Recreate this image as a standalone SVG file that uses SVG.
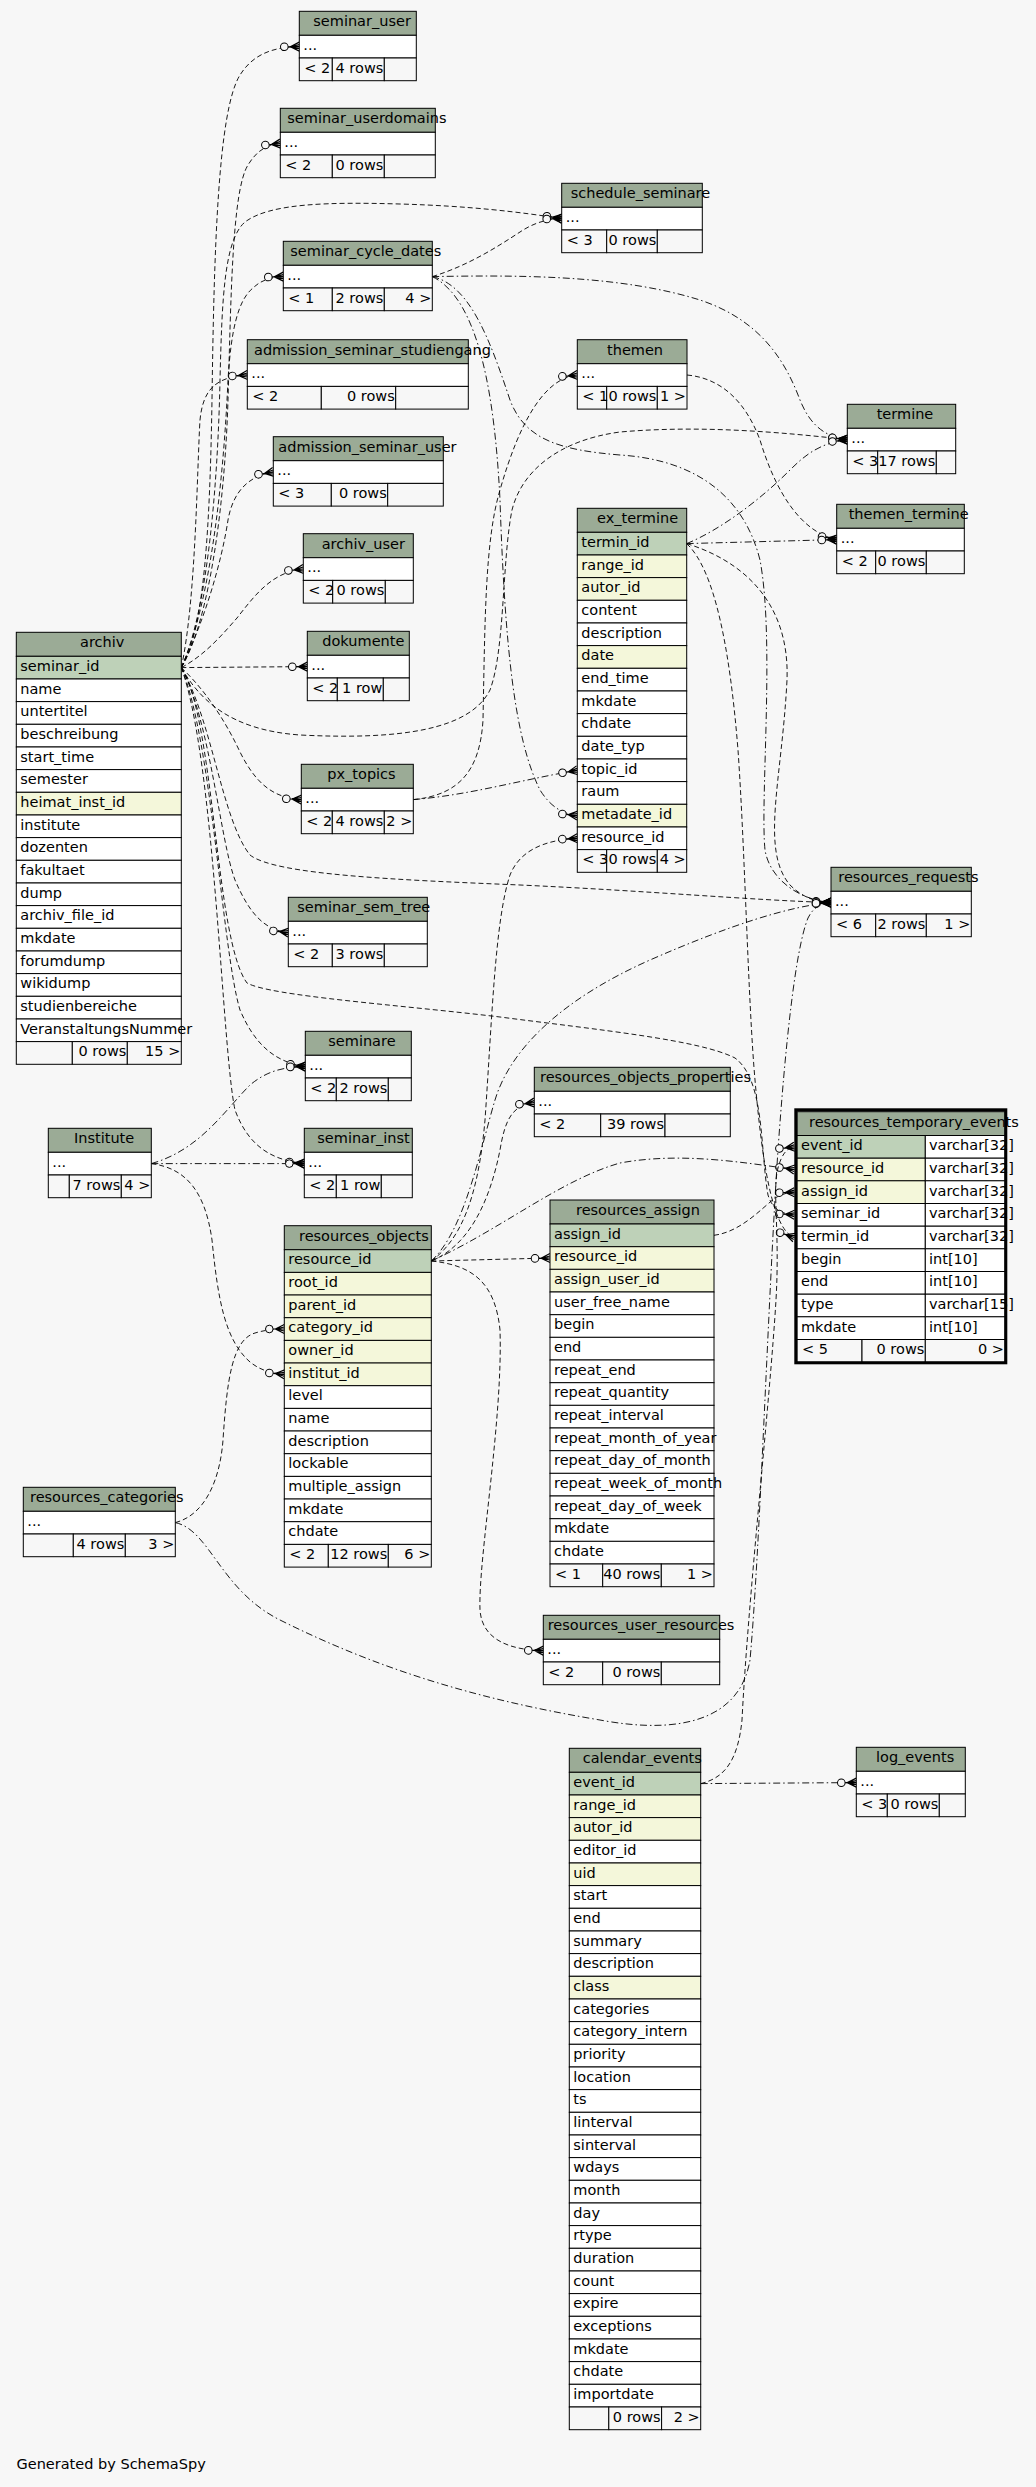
<svg xmlns="http://www.w3.org/2000/svg" width="1036" height="2487" viewBox="0 0 1036 2487">
<style>
text{font-family:"DejaVu Sans","Liberation Sans",sans-serif;font-size:14.5px;fill:#000}
.r{text-anchor:end}
.t rect{stroke:#000;stroke-width:1}
.h{fill:#9bab96}.p{fill:#bed1b8}.i{fill:#f4f7da}.w{fill:#fff}.f{fill:#f7f7f7}
.e{fill:none;stroke:#000;stroke-width:0.9;stroke-dasharray:5 3;marker-end:url(#cf)}
.d{stroke-dasharray:7 3 1.5 3}
</style>
<defs>
<marker id="cf" viewBox="-20 -6 22 12" refX="0" refY="0" markerWidth="22" markerHeight="12" markerUnits="userSpaceOnUse" orient="auto" overflow="visible">
<path d="M-11.2,0 L0,0 M-9,0 L0,-4.5 M-9,0 L0,4.5 M-9,0 L0,-2 M-9,0 L0,2" fill="none" stroke="#000" stroke-width="1.2"/>
<circle cx="-15" cy="0" r="3.8" fill="#f7f7f7" stroke="#000" stroke-width="1"/>
</marker>
</defs>
<rect x="0" y="0" width="1036" height="2487" fill="#f7f7f7"/>
<g id="connectors">
<path class="e" d="M181.3,667.6 C205,630 210,520 212,400 C214,250 218,110 240,75 C252,56 270,47 299.3,46.6"/>
<path class="e" d="M181.3,667.6 C210,620 225,500 228,400 C231,300 232,190 248,165 C256,152 265,145 280.3,143.6"/>
<path class="e" d="M181.3,667.6 C208,610 218,480 220,380 C222,300 224,240 245,222 C270,203 330,202 400,204 C470,206 520,212 561.7,218.6"/>
<path class="e" d="M181.3,667.6 C212,600 224,470 228,380 C231,330 238,300 253,288 C260,281 270,277 283.3,276.6"/>
<path class="e" d="M181.3,667.6 C196,600 197,470 200,420 C203,390 215,377 247.3,375"/>
<path class="e" d="M181.3,667.6 C205,620 222,560 228,520 C233,492 248,476 273.3,472"/>
<path class="e" d="M181.3,667.6 C205,655 222,635 237,618 C255,595 272,572 303.3,569"/>
<path class="e" d="M181.3,667.6 L307.3,666.6"/>
<path class="e" d="M181.3,667.6 C205,690 225,720 240,752 C255,782 272,798 301.3,799.6"/>
<path class="e" d="M181.3,667.6 C200,700 230,730 300,735 C400,740 470,730 490,690 C505,650 502,560 512,510 C522,470 560,440 620,432 C700,425 780,432 847.3,439.6"/>
<path class="e" d="M181.3,667.6 C212,720 222,820 250,855 C275,875 400,880 520,885 C650,891 750,900 831,902.6"/>
<path class="e" d="M181.3,667.6 C215,720 215,940 247,983 C270,996 400,1005 500,1017 C600,1030 700,1040 735,1058 C765,1080 760,1150 768,1195 C772,1208 780,1214 794.3,1214.8"/>
<path class="e" d="M181.3,667.6 C210,720 220,840 235,880 C250,915 265,930 288.3,932.6"/>
<path class="e" d="M181.3,667.6 C212,740 222,950 240,1010 C255,1045 275,1062 305.3,1066.6"/>
<path class="e" d="M181.3,667.6 C215,760 222,1050 235,1110 C248,1145 270,1160 304.3,1163.6"/>
<path class="e" d="M432.3,276.6 C470,265 500,245 520,232 C532,224 545,219 561.7,218.6"/>
<path class="e d" d="M432.3,276.6 C520,275 620,275 700,300 C760,320 785,360 800,400 C810,425 825,437 847.3,439.6"/>
<path class="e d" d="M432.3,276.6 C480,300 495,400 500,500 C505,650 515,740 540,790 C550,806 562,814 577.3,815.6"/>
<path class="e d" d="M432.3,276.6 C470,285 490,340 510,400 C525,440 560,450 620,455 C700,460 745,500 760,560 C775,640 760,800 765,850 C770,880 800,900 831,902.6"/>
<path class="e" d="M687,375 C720,378 745,400 760,440 C775,490 800,532 836.7,539.6"/>
<path class="e" d="M413.3,799.6 C460,795 480,770 483,720 C485,620 485,540 500,490 C520,420 545,378 577.3,375"/>
<path class="e d" d="M413.3,799.6 C470,795 520,780 577.3,770.3"/>
<path class="e d" d="M686.7,543.6 C720,530 760,500 790,470 C805,455 820,443 847.3,439.6"/>
<path class="e d" d="M686.7,543.6 L836.7,539.6"/>
<path class="e" d="M686.7,543.6 C740,560 790,600 787,680 C782,780 760,850 790,885 C802,897 815,902 831,902.6"/>
<path class="e" d="M686.7,543.6 C715,570 730,650 738,750 C745,850 748,1000 755,1080 C762,1160 772,1230 794.3,1237.5"/>
<path class="e d" d="M151.3,1163.6 C200,1150 225,1110 250,1085 C268,1070 285,1067 305.3,1066.6"/>
<path class="e d" d="M151.3,1163.6 L304.3,1163.6"/>
<path class="e" d="M151.3,1163.6 C185,1168 205,1190 212,1240 C218,1300 225,1340 250,1362 C260,1370 270,1373 284.3,1374.3"/>
<path class="e" d="M431.3,1261 C460,1240 478,1200 485,1120 C492,1020 495,920 510,875 C520,850 545,840 577.3,838.3"/>
<path class="e d" d="M431.3,1261 C465,1230 480,1150 495,1100 C510,1050 560,1000 650,960 C730,925 790,906 831,902.6"/>
<path class="e" d="M431.3,1261 C470,1245 490,1200 500,1150 C505,1120 512,1105 534.3,1102.6"/>
<path class="e" d="M431.3,1261 L550,1258"/>
<path class="e d" d="M431.3,1261 C500,1230 560,1180 620,1163 C680,1152 740,1162 794.3,1169.5"/>
<path class="e" d="M431.3,1261 C470,1265 495,1280 500,1330 C503,1420 478,1560 480,1610 C482,1640 510,1650 543.3,1650.6"/>
<path class="e" d="M714,1235.3 C740,1232 760,1210 775,1198 C782,1194 788,1192.4 794.3,1192.2"/>
<path class="e" d="M175.3,1522.6 C205,1515 220,1480 223,1440 C227,1380 232,1340 255,1333 C265,1330 274,1329 284.3,1329"/>
<path class="e d" d="M175.3,1522.6 C210,1530 220,1590 280,1620 C380,1670 480,1700 600,1720 C680,1735 740,1720 750,1660 C760,1550 768,1300 778,1150 C785,1050 795,950 808,918 C814,906 822,903 831,902.6"/>
<path class="e d" d="M700.7,1783.6 L856.3,1782.6"/>
<path class="e" d="M700.7,1783.6 C725,1778 738,1760 742,1720 C748,1600 770,1400 776,1300 C780,1230 772,1190 778,1168 C782,1153 788,1147.5 794.3,1146.8"/>
</g>

<g id="seminar_user" class="t">
<rect class="h" x="299.3" y="11.3" width="117" height="24"/>
<rect class="w" x="299.3" y="35.3" width="117" height="22.7"/>
<rect class="f" x="299.3" y="58" width="33" height="22.7"/>
<rect class="f" x="332.3" y="58" width="52" height="22.7"/>
<rect class="f" x="384.3" y="58" width="32" height="22.7"/>
<text x="313.3" y="26.3">seminar_user</text>
<text x="303.3" y="50">...</text>
<text x="304.3" y="72.7">&lt; 2</text>
<text class="r" x="383.3" y="72.7">4 rows</text>
</g>

<g id="seminar_userdomains" class="t">
<rect class="h" x="280.3" y="108.3" width="155" height="24"/>
<rect class="w" x="280.3" y="132.3" width="155" height="22.7"/>
<rect class="f" x="280.3" y="155" width="52" height="22.7"/>
<rect class="f" x="332.3" y="155" width="52" height="22.7"/>
<rect class="f" x="384.3" y="155" width="51" height="22.7"/>
<text x="287.3" y="123.3">seminar_userdomains</text>
<text x="284.3" y="147">...</text>
<text x="285.3" y="169.7">&lt; 2</text>
<text class="r" x="383.3" y="169.7">0 rows</text>
</g>

<g id="seminar_cycle_dates" class="t">
<rect class="h" x="283.3" y="241.3" width="149" height="24"/>
<rect class="w" x="283.3" y="265.3" width="149" height="22.7"/>
<rect class="f" x="283.3" y="288" width="49" height="22.7"/>
<rect class="f" x="332.3" y="288" width="52" height="22.7"/>
<rect class="f" x="384.3" y="288" width="48" height="22.7"/>
<text x="290.3" y="256.3">seminar_cycle_dates</text>
<text x="287.3" y="280">...</text>
<text x="288.3" y="302.7">&lt; 1</text>
<text class="r" x="383.3" y="302.7">2 rows</text>
<text class="r" x="431.3" y="302.7">4 &gt;</text>
</g>

<g id="admission_seminar_studiengang" class="t">
<rect class="h" x="247.3" y="339.7" width="221" height="24"/>
<rect class="w" x="247.3" y="363.7" width="221" height="22.7"/>
<rect class="f" x="247.3" y="386.4" width="74" height="22.7"/>
<rect class="f" x="321.3" y="386.4" width="74.4" height="22.7"/>
<rect class="f" x="395.7" y="386.4" width="72.6" height="22.7"/>
<text x="254" y="354.7">admission_seminar_studiengang</text>
<text x="251.3" y="378.4">...</text>
<text x="252.3" y="401.1">&lt; 2</text>
<text class="r" x="394.7" y="401.1">0 rows</text>
</g>

<g id="schedule_seminare" class="t">
<rect class="h" x="561.7" y="183.3" width="140.6" height="24"/>
<rect class="w" x="561.7" y="207.3" width="140.6" height="22.7"/>
<rect class="f" x="561.7" y="230" width="45" height="22.7"/>
<rect class="f" x="606.7" y="230" width="50.6" height="22.7"/>
<rect class="f" x="657.3" y="230" width="45" height="22.7"/>
<text x="570.7" y="198.3">schedule_seminare</text>
<text x="565.7" y="222">...</text>
<text x="566.7" y="244.7">&lt; 3</text>
<text class="r" x="656.3" y="244.7">0 rows</text>
</g>

<g id="themen" class="t">
<rect class="h" x="577.3" y="339.7" width="109.7" height="24"/>
<rect class="w" x="577.3" y="363.7" width="109.7" height="22.7"/>
<rect class="f" x="577.3" y="386.4" width="29.4" height="22.7"/>
<rect class="f" x="606.7" y="386.4" width="50.6" height="22.7"/>
<rect class="f" x="657.3" y="386.4" width="29.7" height="22.7"/>
<text x="607" y="354.7">themen</text>
<text x="581.3" y="378.4">...</text>
<text x="582.3" y="401.1">&lt; 1</text>
<text class="r" x="656.3" y="401.1">0 rows</text>
<text class="r" x="686" y="401.1">1 &gt;</text>
</g>

<g id="termine" class="t">
<rect class="h" x="847.3" y="404.3" width="108.4" height="24"/>
<rect class="w" x="847.3" y="428.3" width="108.4" height="22.7"/>
<rect class="f" x="847.3" y="451" width="30.4" height="22.7"/>
<rect class="f" x="877.7" y="451" width="58.6" height="22.7"/>
<rect class="f" x="936.3" y="451" width="19.4" height="22.7"/>
<text x="876.7" y="419.3">termine</text>
<text x="851.3" y="443">...</text>
<text x="852.3" y="465.7">&lt; 3</text>
<text class="r" x="935.3" y="465.7">17 rows</text>
</g>

<g id="admission_seminar_user" class="t">
<rect class="h" x="273.3" y="436.7" width="170" height="24"/>
<rect class="w" x="273.3" y="460.7" width="170" height="22.7"/>
<rect class="f" x="273.3" y="483.4" width="58" height="22.7"/>
<rect class="f" x="331.3" y="483.4" width="56.4" height="22.7"/>
<rect class="f" x="387.7" y="483.4" width="55.6" height="22.7"/>
<text x="278.3" y="451.7">admission_seminar_user</text>
<text x="277.3" y="475.4">...</text>
<text x="278.3" y="498.1">&lt; 3</text>
<text class="r" x="386.7" y="498.1">0 rows</text>
</g>

<g id="archiv_user" class="t">
<rect class="h" x="303.3" y="533.7" width="110" height="24"/>
<rect class="w" x="303.3" y="557.7" width="110" height="22.7"/>
<rect class="f" x="303.3" y="580.4" width="29.4" height="22.7"/>
<rect class="f" x="332.7" y="580.4" width="52.6" height="22.7"/>
<rect class="f" x="385.3" y="580.4" width="28" height="22.7"/>
<text x="321.7" y="548.7">archiv_user</text>
<text x="307.3" y="572.4">...</text>
<text x="308.3" y="595.1">&lt; 2</text>
<text class="r" x="384.3" y="595.1">0 rows</text>
</g>

<g id="dokumente" class="t">
<rect class="h" x="307.3" y="631.3" width="102" height="24"/>
<rect class="w" x="307.3" y="655.3" width="102" height="22.7"/>
<rect class="f" x="307.3" y="678" width="30" height="22.7"/>
<rect class="f" x="337.3" y="678" width="46" height="22.7"/>
<rect class="f" x="383.3" y="678" width="26" height="22.7"/>
<text x="322.3" y="646.3">dokumente</text>
<text x="311.3" y="670">...</text>
<text x="312.3" y="692.7">&lt; 2</text>
<text class="r" x="382.3" y="692.7">1 row</text>
</g>

<g id="px_topics" class="t">
<rect class="h" x="301.3" y="764.3" width="112" height="24"/>
<rect class="w" x="301.3" y="788.3" width="112" height="22.7"/>
<rect class="f" x="301.3" y="811" width="31" height="22.7"/>
<rect class="f" x="332.3" y="811" width="52" height="22.7"/>
<rect class="f" x="384.3" y="811" width="29" height="22.7"/>
<text x="327.3" y="779.3">px_topics</text>
<text x="305.3" y="803">...</text>
<text x="306.3" y="825.7">&lt; 2</text>
<text class="r" x="383.3" y="825.7">4 rows</text>
<text class="r" x="412.3" y="825.7">2 &gt;</text>
</g>

<g id="themen_termine" class="t">
<rect class="h" x="836.7" y="504.3" width="127.6" height="24"/>
<rect class="w" x="836.7" y="528.3" width="127.6" height="22.7"/>
<rect class="f" x="836.7" y="551" width="39" height="22.7"/>
<rect class="f" x="875.7" y="551" width="50.6" height="22.7"/>
<rect class="f" x="926.3" y="551" width="38" height="22.7"/>
<text x="848.7" y="519.3">themen_termine</text>
<text x="840.7" y="543">...</text>
<text x="841.7" y="565.7">&lt; 2</text>
<text class="r" x="925.3" y="565.7">0 rows</text>
</g>

<g id="seminar_sem_tree" class="t">
<rect class="h" x="288.3" y="897.3" width="139" height="24"/>
<rect class="w" x="288.3" y="921.3" width="139" height="22.7"/>
<rect class="f" x="288.3" y="944" width="44" height="22.7"/>
<rect class="f" x="332.3" y="944" width="52" height="22.7"/>
<rect class="f" x="384.3" y="944" width="43" height="22.7"/>
<text x="297.3" y="912.3">seminar_sem_tree</text>
<text x="292.3" y="936">...</text>
<text x="293.3" y="958.7">&lt; 2</text>
<text class="r" x="383.3" y="958.7">3 rows</text>
</g>

<g id="seminare" class="t">
<rect class="h" x="305.3" y="1031.3" width="106" height="24"/>
<rect class="w" x="305.3" y="1055.3" width="106" height="22.7"/>
<rect class="f" x="305.3" y="1078" width="31" height="22.7"/>
<rect class="f" x="336.3" y="1078" width="52" height="22.7"/>
<rect class="f" x="388.3" y="1078" width="23" height="22.7"/>
<text x="328.3" y="1046.3">seminare</text>
<text x="309.3" y="1070">...</text>
<text x="310.3" y="1092.7">&lt; 2</text>
<text class="r" x="387.3" y="1092.7">2 rows</text>
</g>

<g id="Institute" class="t">
<rect class="h" x="48.3" y="1128.3" width="103" height="24"/>
<rect class="w" x="48.3" y="1152.3" width="103" height="22.7"/>
<rect class="f" x="48.3" y="1175" width="21" height="22.7"/>
<rect class="f" x="69.3" y="1175" width="52" height="22.7"/>
<rect class="f" x="121.3" y="1175" width="30" height="22.7"/>
<text x="74" y="1143.3">Institute</text>
<text x="52.3" y="1167">...</text>
<text class="r" x="120.3" y="1189.7">7 rows</text>
<text class="r" x="150.3" y="1189.7">4 &gt;</text>
</g>

<g id="seminar_inst" class="t">
<rect class="h" x="304.3" y="1128.3" width="108" height="24"/>
<rect class="w" x="304.3" y="1152.3" width="108" height="22.7"/>
<rect class="f" x="304.3" y="1175" width="32" height="22.7"/>
<rect class="f" x="336.3" y="1175" width="45" height="22.7"/>
<rect class="f" x="381.3" y="1175" width="31" height="22.7"/>
<text x="317.3" y="1143.3">seminar_inst</text>
<text x="308.3" y="1167">...</text>
<text x="309.3" y="1189.7">&lt; 2</text>
<text class="r" x="380.3" y="1189.7">1 row</text>
</g>

<g id="resources_requests" class="t">
<rect class="h" x="831" y="867.3" width="140.3" height="24"/>
<rect class="w" x="831" y="891.3" width="140.3" height="22.7"/>
<rect class="f" x="831" y="914" width="44.7" height="22.7"/>
<rect class="f" x="875.7" y="914" width="50.6" height="22.7"/>
<rect class="f" x="926.3" y="914" width="45" height="22.7"/>
<text x="838.3" y="882.3">resources_requests</text>
<text x="835" y="906">...</text>
<text x="836" y="928.7">&lt; 6</text>
<text class="r" x="925.3" y="928.7">2 rows</text>
<text class="r" x="970.3" y="928.7">1 &gt;</text>
</g>

<g id="resources_objects_properties" class="t">
<rect class="h" x="534.3" y="1067.3" width="196" height="24"/>
<rect class="w" x="534.3" y="1091.3" width="196" height="22.7"/>
<rect class="f" x="534.3" y="1114" width="66.4" height="22.7"/>
<rect class="f" x="600.7" y="1114" width="64.3" height="22.7"/>
<rect class="f" x="665" y="1114" width="65.3" height="22.7"/>
<text x="540" y="1082.3">resources_objects_properties</text>
<text x="538.3" y="1106">...</text>
<text x="539.3" y="1128.7">&lt; 2</text>
<text class="r" x="664" y="1128.7">39 rows</text>
</g>

<g id="resources_categories" class="t">
<rect class="h" x="23.3" y="1487.3" width="152" height="24"/>
<rect class="w" x="23.3" y="1511.3" width="152" height="22.7"/>
<rect class="f" x="23.3" y="1534" width="50" height="22.7"/>
<rect class="f" x="73.3" y="1534" width="52" height="22.7"/>
<rect class="f" x="125.3" y="1534" width="50" height="22.7"/>
<text x="30" y="1502.3">resources_categories</text>
<text x="27.3" y="1526">...</text>
<text class="r" x="124.3" y="1548.7">4 rows</text>
<text class="r" x="174.3" y="1548.7">3 &gt;</text>
</g>

<g id="resources_user_resources" class="t">
<rect class="h" x="543.3" y="1615.3" width="176.4" height="24"/>
<rect class="w" x="543.3" y="1639.3" width="176.4" height="22.7"/>
<rect class="f" x="543.3" y="1662" width="59.4" height="22.7"/>
<rect class="f" x="602.7" y="1662" width="58.6" height="22.7"/>
<rect class="f" x="661.3" y="1662" width="58.4" height="22.7"/>
<text x="547.7" y="1630.3">resources_user_resources</text>
<text x="547.3" y="1654">...</text>
<text x="548.3" y="1676.7">&lt; 2</text>
<text class="r" x="660.3" y="1676.7">0 rows</text>
</g>

<g id="log_events" class="t">
<rect class="h" x="856.3" y="1747.3" width="109" height="24"/>
<rect class="w" x="856.3" y="1771.3" width="109" height="22.7"/>
<rect class="f" x="856.3" y="1794" width="31" height="22.7"/>
<rect class="f" x="887.3" y="1794" width="52" height="22.7"/>
<rect class="f" x="939.3" y="1794" width="26" height="22.7"/>
<text x="876" y="1762.3">log_events</text>
<text x="860.3" y="1786">...</text>
<text x="861.3" y="1808.7">&lt; 3</text>
<text class="r" x="938.3" y="1808.7">0 rows</text>
</g>

<g id="archiv" class="t">
<rect class="h" x="16.3" y="632.3" width="165" height="24"/>
<rect class="p" x="16.3" y="656.3" width="165" height="22.7"/>
<rect class="w" x="16.3" y="679" width="165" height="22.7"/>
<rect class="w" x="16.3" y="701.6" width="165" height="22.7"/>
<rect class="w" x="16.3" y="724.3" width="165" height="22.7"/>
<rect class="w" x="16.3" y="747" width="165" height="22.7"/>
<rect class="w" x="16.3" y="769.6" width="165" height="22.7"/>
<rect class="i" x="16.3" y="792.3" width="165" height="22.7"/>
<rect class="w" x="16.3" y="815" width="165" height="22.7"/>
<rect class="w" x="16.3" y="837.6" width="165" height="22.7"/>
<rect class="w" x="16.3" y="860.3" width="165" height="22.7"/>
<rect class="w" x="16.3" y="883" width="165" height="22.7"/>
<rect class="w" x="16.3" y="905.6" width="165" height="22.7"/>
<rect class="w" x="16.3" y="928.3" width="165" height="22.7"/>
<rect class="w" x="16.3" y="951" width="165" height="22.7"/>
<rect class="w" x="16.3" y="973.6" width="165" height="22.7"/>
<rect class="w" x="16.3" y="996.3" width="165" height="22.7"/>
<rect class="w" x="16.3" y="1019" width="165" height="22.7"/>
<rect class="f" x="16.3" y="1041.6" width="56" height="22.7"/>
<rect class="f" x="72.3" y="1041.6" width="55" height="22.7"/>
<rect class="f" x="127.3" y="1041.6" width="54" height="22.7"/>
<text x="80" y="647.3">archiv</text>
<text x="20.3" y="671">seminar_id</text>
<text x="20.3" y="693.7">name</text>
<text x="20.3" y="716.3">untertitel</text>
<text x="20.3" y="739">beschreibung</text>
<text x="20.3" y="761.7">start_time</text>
<text x="20.3" y="784.3">semester</text>
<text x="20.3" y="807">heimat_inst_id</text>
<text x="20.3" y="829.7">institute</text>
<text x="20.3" y="852.3">dozenten</text>
<text x="20.3" y="875">fakultaet</text>
<text x="20.3" y="897.7">dump</text>
<text x="20.3" y="920.3">archiv_file_id</text>
<text x="20.3" y="943">mkdate</text>
<text x="20.3" y="965.7">forumdump</text>
<text x="20.3" y="988.3">wikidump</text>
<text x="20.3" y="1011">studienbereiche</text>
<text x="20.3" y="1033.7">VeranstaltungsNummer</text>
<text class="r" x="126.3" y="1056.3">0 rows</text>
<text class="r" x="180.3" y="1056.3">15 &gt;</text>
</g>

<g id="ex_termine" class="t">
<rect class="h" x="577.3" y="508.3" width="109.4" height="24"/>
<rect class="p" x="577.3" y="532.3" width="109.4" height="22.7"/>
<rect class="i" x="577.3" y="555" width="109.4" height="22.7"/>
<rect class="i" x="577.3" y="577.6" width="109.4" height="22.7"/>
<rect class="w" x="577.3" y="600.3" width="109.4" height="22.7"/>
<rect class="w" x="577.3" y="623" width="109.4" height="22.7"/>
<rect class="i" x="577.3" y="645.6" width="109.4" height="22.7"/>
<rect class="w" x="577.3" y="668.3" width="109.4" height="22.7"/>
<rect class="w" x="577.3" y="691" width="109.4" height="22.7"/>
<rect class="w" x="577.3" y="713.6" width="109.4" height="22.7"/>
<rect class="w" x="577.3" y="736.3" width="109.4" height="22.7"/>
<rect class="w" x="577.3" y="759" width="109.4" height="22.7"/>
<rect class="w" x="577.3" y="781.6" width="109.4" height="22.7"/>
<rect class="i" x="577.3" y="804.3" width="109.4" height="22.7"/>
<rect class="w" x="577.3" y="827" width="109.4" height="22.7"/>
<rect class="f" x="577.3" y="849.6" width="29.4" height="22.7"/>
<rect class="f" x="606.7" y="849.6" width="50.6" height="22.7"/>
<rect class="f" x="657.3" y="849.6" width="29.4" height="22.7"/>
<text x="597" y="523.3">ex_termine</text>
<text x="581.3" y="547">termin_id</text>
<text x="581.3" y="569.7">range_id</text>
<text x="581.3" y="592.3">autor_id</text>
<text x="581.3" y="615">content</text>
<text x="581.3" y="637.7">description</text>
<text x="581.3" y="660.3">date</text>
<text x="581.3" y="683">end_time</text>
<text x="581.3" y="705.7">mkdate</text>
<text x="581.3" y="728.3">chdate</text>
<text x="581.3" y="751">date_typ</text>
<text x="581.3" y="773.7">topic_id</text>
<text x="581.3" y="796.3">raum</text>
<text x="581.3" y="819">metadate_id</text>
<text x="581.3" y="841.7">resource_id</text>
<text x="582.3" y="864.3">&lt; 3</text>
<text class="r" x="656.3" y="864.3">0 rows</text>
<text class="r" x="685.7" y="864.3">4 &gt;</text>
</g>

<g id="resources_objects" class="t">
<rect class="h" x="284.3" y="1225.7" width="147" height="24"/>
<rect class="p" x="284.3" y="1249.7" width="147" height="22.7"/>
<rect class="i" x="284.3" y="1272.4" width="147" height="22.7"/>
<rect class="i" x="284.3" y="1295" width="147" height="22.7"/>
<rect class="i" x="284.3" y="1317.7" width="147" height="22.7"/>
<rect class="i" x="284.3" y="1340.4" width="147" height="22.7"/>
<rect class="i" x="284.3" y="1363" width="147" height="22.7"/>
<rect class="w" x="284.3" y="1385.7" width="147" height="22.7"/>
<rect class="w" x="284.3" y="1408.4" width="147" height="22.7"/>
<rect class="w" x="284.3" y="1431" width="147" height="22.7"/>
<rect class="w" x="284.3" y="1453.7" width="147" height="22.7"/>
<rect class="w" x="284.3" y="1476.4" width="147" height="22.7"/>
<rect class="w" x="284.3" y="1499" width="147" height="22.7"/>
<rect class="w" x="284.3" y="1521.7" width="147" height="22.7"/>
<rect class="f" x="284.3" y="1544.4" width="44" height="22.7"/>
<rect class="f" x="328.3" y="1544.4" width="60" height="22.7"/>
<rect class="f" x="388.3" y="1544.4" width="43" height="22.7"/>
<text x="299" y="1240.7">resources_objects</text>
<text x="288.3" y="1264.4">resource_id</text>
<text x="288.3" y="1287.1">root_id</text>
<text x="288.3" y="1309.7">parent_id</text>
<text x="288.3" y="1332.4">category_id</text>
<text x="288.3" y="1355.1">owner_id</text>
<text x="288.3" y="1377.7">institut_id</text>
<text x="288.3" y="1400.4">level</text>
<text x="288.3" y="1423.1">name</text>
<text x="288.3" y="1445.7">description</text>
<text x="288.3" y="1468.4">lockable</text>
<text x="288.3" y="1491.1">multiple_assign</text>
<text x="288.3" y="1513.7">mkdate</text>
<text x="288.3" y="1536.4">chdate</text>
<text x="289.3" y="1559.1">&lt; 2</text>
<text class="r" x="387.3" y="1559.1">12 rows</text>
<text class="r" x="430.3" y="1559.1">6 &gt;</text>
</g>

<g id="resources_assign" class="t">
<rect class="h" x="550" y="1200" width="164" height="24"/>
<rect class="p" x="550" y="1224" width="164" height="22.7"/>
<rect class="i" x="550" y="1246.7" width="164" height="22.7"/>
<rect class="i" x="550" y="1269.3" width="164" height="22.7"/>
<rect class="w" x="550" y="1292" width="164" height="22.7"/>
<rect class="w" x="550" y="1314.7" width="164" height="22.7"/>
<rect class="w" x="550" y="1337.3" width="164" height="22.7"/>
<rect class="w" x="550" y="1360" width="164" height="22.7"/>
<rect class="w" x="550" y="1382.7" width="164" height="22.7"/>
<rect class="w" x="550" y="1405.3" width="164" height="22.7"/>
<rect class="w" x="550" y="1428" width="164" height="22.7"/>
<rect class="w" x="550" y="1450.7" width="164" height="22.7"/>
<rect class="w" x="550" y="1473.3" width="164" height="22.7"/>
<rect class="w" x="550" y="1496" width="164" height="22.7"/>
<rect class="w" x="550" y="1518.7" width="164" height="22.7"/>
<rect class="w" x="550" y="1541.3" width="164" height="22.7"/>
<rect class="f" x="550" y="1564" width="52.7" height="22.7"/>
<rect class="f" x="602.7" y="1564" width="58.6" height="22.7"/>
<rect class="f" x="661.3" y="1564" width="52.7" height="22.7"/>
<text x="576" y="1215">resources_assign</text>
<text x="554" y="1238.7">assign_id</text>
<text x="554" y="1261.4">resource_id</text>
<text x="554" y="1284">assign_user_id</text>
<text x="554" y="1306.7">user_free_name</text>
<text x="554" y="1329.4">begin</text>
<text x="554" y="1352">end</text>
<text x="554" y="1374.7">repeat_end</text>
<text x="554" y="1397.4">repeat_quantity</text>
<text x="554" y="1420">repeat_interval</text>
<text x="554" y="1442.7">repeat_month_of_year</text>
<text x="554" y="1465.4">repeat_day_of_month</text>
<text x="554" y="1488">repeat_week_of_month</text>
<text x="554" y="1510.7">repeat_day_of_week</text>
<text x="554" y="1533.4">mkdate</text>
<text x="554" y="1556">chdate</text>
<text x="555" y="1578.7">&lt; 1</text>
<text class="r" x="660.3" y="1578.7">40 rows</text>
<text class="r" x="713" y="1578.7">1 &gt;</text>
</g>

<g id="resources_temporary_events" class="t">
<rect class="h" x="797" y="1111.7" width="208" height="23.8"/>
<rect class="p" x="797" y="1135.5" width="128.3" height="22.7"/>
<rect class="i" x="797" y="1158.2" width="128.3" height="22.7"/>
<rect class="i" x="797" y="1180.8" width="128.3" height="22.7"/>
<rect class="w" x="797" y="1203.5" width="128.3" height="22.7"/>
<rect class="w" x="797" y="1226.2" width="128.3" height="22.7"/>
<rect class="w" x="797" y="1248.8" width="128.3" height="22.7"/>
<rect class="w" x="797" y="1271.5" width="128.3" height="22.7"/>
<rect class="w" x="797" y="1294.2" width="128.3" height="22.7"/>
<rect class="w" x="797" y="1316.8" width="128.3" height="22.7"/>
<rect class="w" x="925.3" y="1135.5" width="79.7" height="22.7"/>
<rect class="w" x="925.3" y="1158.2" width="79.7" height="22.7"/>
<rect class="w" x="925.3" y="1180.8" width="79.7" height="22.7"/>
<rect class="w" x="925.3" y="1203.5" width="79.7" height="22.7"/>
<rect class="w" x="925.3" y="1226.2" width="79.7" height="22.7"/>
<rect class="w" x="925.3" y="1248.8" width="79.7" height="22.7"/>
<rect class="w" x="925.3" y="1271.5" width="79.7" height="22.7"/>
<rect class="w" x="925.3" y="1294.2" width="79.7" height="22.7"/>
<rect class="w" x="925.3" y="1316.8" width="79.7" height="22.7"/>
<rect class="f" x="797" y="1339.5" width="65" height="22.7"/>
<rect class="f" x="862" y="1339.5" width="63.3" height="22.7"/>
<rect class="f" x="925.3" y="1339.5" width="79.7" height="22.7"/>
<rect x="795.8" y="1109.8" width="210" height="253" fill="none" style="stroke-width:3"/>
<text x="809" y="1126.7">resources_temporary_events</text>
<text x="801" y="1150.2">event_id</text>
<text x="801" y="1172.9">resource_id</text>
<text x="801" y="1195.5">assign_id</text>
<text x="801" y="1218.2">seminar_id</text>
<text x="801" y="1240.9">termin_id</text>
<text x="801" y="1263.5">begin</text>
<text x="801" y="1286.2">end</text>
<text x="801" y="1308.9">type</text>
<text x="801" y="1331.5">mkdate</text>
<text x="929" y="1150.2">varchar[32]</text>
<text x="929" y="1172.9">varchar[32]</text>
<text x="929" y="1195.5">varchar[32]</text>
<text x="929" y="1218.2">varchar[32]</text>
<text x="929" y="1240.9">varchar[32]</text>
<text x="929" y="1263.5">int[10]</text>
<text x="929" y="1286.2">int[10]</text>
<text x="929" y="1308.9">varchar[15]</text>
<text x="929" y="1331.5">int[10]</text>
<text x="802" y="1354.2">&lt; 5</text>
<text class="r" x="924.3" y="1354.2">0 rows</text>
<text class="r" x="1004" y="1354.2">0 &gt;</text>
</g>

<g id="calendar_events" class="t">
<rect class="h" x="569.3" y="1748.3" width="131.4" height="24"/>
<rect class="p" x="569.3" y="1772.3" width="131.4" height="22.7"/>
<rect class="i" x="569.3" y="1795" width="131.4" height="22.7"/>
<rect class="i" x="569.3" y="1817.6" width="131.4" height="22.7"/>
<rect class="w" x="569.3" y="1840.3" width="131.4" height="22.7"/>
<rect class="i" x="569.3" y="1863" width="131.4" height="22.7"/>
<rect class="w" x="569.3" y="1885.6" width="131.4" height="22.7"/>
<rect class="w" x="569.3" y="1908.3" width="131.4" height="22.7"/>
<rect class="w" x="569.3" y="1931" width="131.4" height="22.7"/>
<rect class="w" x="569.3" y="1953.6" width="131.4" height="22.7"/>
<rect class="i" x="569.3" y="1976.3" width="131.4" height="22.7"/>
<rect class="w" x="569.3" y="1999" width="131.4" height="22.7"/>
<rect class="w" x="569.3" y="2021.6" width="131.4" height="22.7"/>
<rect class="w" x="569.3" y="2044.3" width="131.4" height="22.7"/>
<rect class="w" x="569.3" y="2067" width="131.4" height="22.7"/>
<rect class="w" x="569.3" y="2089.6" width="131.4" height="22.7"/>
<rect class="w" x="569.3" y="2112.3" width="131.4" height="22.7"/>
<rect class="w" x="569.3" y="2135" width="131.4" height="22.7"/>
<rect class="w" x="569.3" y="2157.6" width="131.4" height="22.7"/>
<rect class="w" x="569.3" y="2180.3" width="131.4" height="22.7"/>
<rect class="w" x="569.3" y="2203" width="131.4" height="22.7"/>
<rect class="w" x="569.3" y="2225.6" width="131.4" height="22.7"/>
<rect class="w" x="569.3" y="2248.3" width="131.4" height="22.7"/>
<rect class="w" x="569.3" y="2271" width="131.4" height="22.7"/>
<rect class="w" x="569.3" y="2293.6" width="131.4" height="22.7"/>
<rect class="w" x="569.3" y="2316.3" width="131.4" height="22.7"/>
<rect class="w" x="569.3" y="2339" width="131.4" height="22.7"/>
<rect class="w" x="569.3" y="2361.6" width="131.4" height="22.7"/>
<rect class="w" x="569.3" y="2384.3" width="131.4" height="22.7"/>
<rect class="f" x="569.3" y="2407" width="39.5" height="22.7"/>
<rect class="f" x="608.8" y="2407" width="52.8" height="22.7"/>
<rect class="f" x="661.6" y="2407" width="39.1" height="22.7"/>
<text x="582.7" y="1763.3">calendar_events</text>
<text x="573.3" y="1787">event_id</text>
<text x="573.3" y="1809.7">range_id</text>
<text x="573.3" y="1832.3">autor_id</text>
<text x="573.3" y="1855">editor_id</text>
<text x="573.3" y="1877.7">uid</text>
<text x="573.3" y="1900.3">start</text>
<text x="573.3" y="1923">end</text>
<text x="573.3" y="1945.7">summary</text>
<text x="573.3" y="1968.3">description</text>
<text x="573.3" y="1991">class</text>
<text x="573.3" y="2013.7">categories</text>
<text x="573.3" y="2036.3">category_intern</text>
<text x="573.3" y="2059">priority</text>
<text x="573.3" y="2081.7">location</text>
<text x="573.3" y="2104.3">ts</text>
<text x="573.3" y="2127">linterval</text>
<text x="573.3" y="2149.7">sinterval</text>
<text x="573.3" y="2172.3">wdays</text>
<text x="573.3" y="2195">month</text>
<text x="573.3" y="2217.7">day</text>
<text x="573.3" y="2240.3">rtype</text>
<text x="573.3" y="2263">duration</text>
<text x="573.3" y="2285.7">count</text>
<text x="573.3" y="2308.3">expire</text>
<text x="573.3" y="2331">exceptions</text>
<text x="573.3" y="2353.7">mkdate</text>
<text x="573.3" y="2376.3">chdate</text>
<text x="573.3" y="2399">importdate</text>
<text class="r" x="660.6" y="2421.7">0 rows</text>
<text class="r" x="699.7" y="2421.7">2 &gt;</text>
</g>

<text id="footer-note" x="16.5" y="2469">Generated by SchemaSpy</text>
</svg>
